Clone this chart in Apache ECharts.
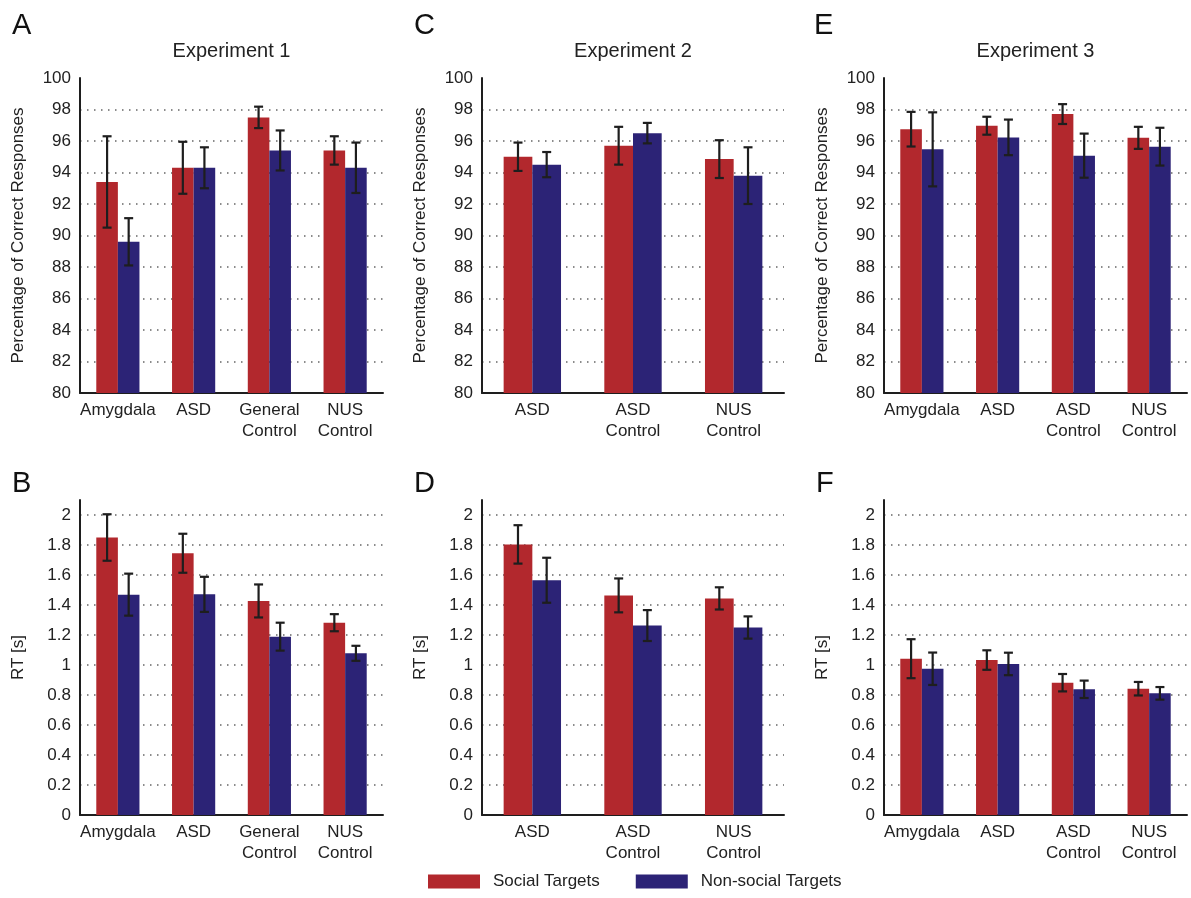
<!DOCTYPE html>
<html>
<head>
<meta charset="utf-8">
<title>Accuracy and reaction time by group</title>
<script src="https://cdn.jsdelivr.net/npm/echarts@6/dist/echarts.min.js"></script>
<style>
  html, body { margin: 0; padding: 0; background: #ffffff; }
  #chart { width: 1191px; height: 898px; }
</style>
</head>
<body>
<div id="chart"></div>
<script>
// ---- Categories ----
const exp1Categories = ['Amygdala', 'ASD', 'General\nControl', 'NUS\nControl'];
const exp2Categories = ['ASD', 'ASD\nControl', 'NUS\nControl'];
const exp3Categories = ['Amygdala', 'ASD', 'ASD\nControl', 'NUS\nControl'];

// ---- Percentage of correct responses (mean, error) ----
const acc1Social       = [93.4, 94.3, 97.5, 95.4];
const acc1SocialErr    = [2.9, 1.65, 0.68, 0.9];
const acc1NonSocial    = [89.6, 94.3, 95.4, 94.3];
const acc1NonSocialErr = [1.5, 1.3, 1.27, 1.6];

const acc2Social       = [95.0, 95.7, 94.85];
const acc2SocialErr    = [0.9, 1.2, 1.2];
const acc2NonSocial    = [94.5, 96.5, 93.8];
const acc2NonSocialErr = [0.8, 0.65, 1.8];

const acc3Social       = [96.75, 96.97, 97.71, 96.2];
const acc3SocialErr    = [1.1, 0.57, 0.63, 0.7];
const acc3NonSocial    = [95.47, 96.23, 95.07, 95.64];
const acc3NonSocialErr = [2.35, 1.13, 1.4, 1.2];

// ---- Reaction time in seconds (mean, error) ----
const rt1Social       = [1.85, 1.745, 1.427, 1.282];
const rt1SocialErr    = [0.155, 0.13, 0.11, 0.057];
const rt1NonSocial    = [1.469, 1.471, 1.189, 1.078];
const rt1NonSocialErr = [0.14, 0.117, 0.093, 0.05];

const rt2Social       = [1.804, 1.464, 1.444];
const rt2SocialErr    = [0.128, 0.113, 0.074];
const rt2NonSocial    = [1.565, 1.263, 1.25];
const rt2NonSocialErr = [0.15, 0.103, 0.074];

const rt3Social       = [1.042, 1.033, 0.882, 0.842];
const rt3SocialErr    = [0.13, 0.065, 0.058, 0.045];
const rt3NonSocial    = [0.975, 1.007, 0.838, 0.811];
const rt3NonSocialErr = [0.108, 0.075, 0.058, 0.042];

// ---- Labels ----
const experimentTitles = ['Experiment 1', 'Experiment 2', 'Experiment 3'];
const panelLetters = ['A', 'C', 'E', 'B', 'D', 'F'];
const seriesNames = ['Social Targets', 'Non-social Targets'];
const accAxisName = 'Percentage of Correct Responses';
const rtAxisName = 'RT [s]';

// ---- Styling / layout ----
const FONT = "'Liberation Sans', Arial, Helvetica, sans-serif";
const RED = '#b2282d';
const BLUE = '#2c2376';
const INK = '#1e1e1e';
const CATEGORY_GAP = 0.43;                 // fraction of each band left empty
const BAR_FRAC = (1 - CATEGORY_GAP) / 2;   // width of one bar as a band fraction

const colLeft = [80, 482, 884];
const colWidth = [303, 302, 303];
const rowTop = [78, 500];
const rowHeight = 315;

const panels = [
  { row: 0, col: 0, cats: exp1Categories, s: acc1Social, se: acc1SocialErr, n: acc1NonSocial, ne: acc1NonSocialErr, kind: 'acc' },
  { row: 0, col: 1, cats: exp2Categories, s: acc2Social, se: acc2SocialErr, n: acc2NonSocial, ne: acc2NonSocialErr, kind: 'acc' },
  { row: 0, col: 2, cats: exp3Categories, s: acc3Social, se: acc3SocialErr, n: acc3NonSocial, ne: acc3NonSocialErr, kind: 'acc' },
  { row: 1, col: 0, cats: exp1Categories, s: rt1Social, se: rt1SocialErr, n: rt1NonSocial, ne: rt1NonSocialErr, kind: 'rt' },
  { row: 1, col: 1, cats: exp2Categories, s: rt2Social, se: rt2SocialErr, n: rt2NonSocial, ne: rt2NonSocialErr, kind: 'rt' },
  { row: 1, col: 2, cats: exp3Categories, s: rt3Social, se: rt3SocialErr, n: rt3NonSocial, ne: rt3NonSocialErr, kind: 'rt' }
];

// Error bar: vertical whisker with caps, centred on the bar of the given side (-1 left, +1 right)
function errorBarRenderer(side) {
  return function (params, api) {
    const cat = api.value(0);
    const lo = api.coord([cat, api.value(1)]);
    const hi = api.coord([cat, api.value(2)]);
    const band = api.size([1, 0])[0];
    const x = lo[0] + side * band * BAR_FRAC / 2;
    const cap = 4.5;
    const style = { stroke: INK, lineWidth: 2.2 };
    return {
      type: 'group',
      children: [
        { type: 'line', shape: { x1: x, y1: lo[1], x2: x, y2: hi[1] }, style: style },
        { type: 'line', shape: { x1: x - cap, y1: hi[1], x2: x + cap, y2: hi[1] }, style: style },
        { type: 'line', shape: { x1: x - cap, y1: lo[1], x2: x + cap, y2: lo[1] }, style: style }
      ]
    };
  };
}

function errorData(means, errs) {
  return means.map((m, i) => [i, m - errs[i], m + errs[i]]);
}

const grids = [], xAxes = [], yAxes = [], series = [];

panels.forEach((p, i) => {
  grids.push({
    left: colLeft[p.col], top: rowTop[p.row],
    width: colWidth[p.col], height: rowHeight,
    containLabel: false, outerBoundsMode: 'none'
  });

  xAxes.push({
    type: 'category', gridIndex: i, data: p.cats,
    axisLine: { lineStyle: { color: INK, width: 2 } },
    axisTick: { show: false },
    axisLabel: { interval: 0, color: '#222', fontFamily: FONT, fontSize: 17, lineHeight: 21, margin: 7 },
    splitLine: { show: false }
  });

  const isAcc = p.kind === 'acc';
  yAxes.push({
    type: 'value', gridIndex: i,
    min: isAcc ? 80 : 0,
    max: isAcc ? 100 : 2.1,
    interval: isAcc ? 2 : 0.2,
    name: isAcc ? accAxisName : rtAxisName,
    nameLocation: 'middle', nameGap: 53,
    nameTextStyle: { color: '#222', fontFamily: FONT, fontSize: 17 },
    axisLine: { show: true, lineStyle: { color: INK, width: 2 } },
    axisTick: { show: false },
    axisLabel: { color: '#222', fontFamily: FONT, fontSize: 17, margin: 9, showMaxLabel: isAcc },
    splitLine: {
      show: true, showMinLine: false, showMaxLine: false,
      lineStyle: { color: '#666', width: 1.5, type: [1.5, 5.5] }
    }
  });

  series.push({
    name: seriesNames[0], type: 'bar', xAxisIndex: i, yAxisIndex: i,
    data: p.s, barGap: '0%', barCategoryGap: (CATEGORY_GAP * 100) + '%',
    itemStyle: { color: RED }, silent: true
  });
  series.push({
    name: seriesNames[1], type: 'bar', xAxisIndex: i, yAxisIndex: i,
    data: p.n, barGap: '0%', barCategoryGap: (CATEGORY_GAP * 100) + '%',
    itemStyle: { color: BLUE }, silent: true
  });
  series.push({
    name: seriesNames[0], type: 'custom', xAxisIndex: i, yAxisIndex: i,
    data: errorData(p.s, p.se), encode: { x: 0, y: [1, 2] },
    renderItem: errorBarRenderer(-1), z: 5, silent: true, clip: false
  });
  series.push({
    name: seriesNames[1], type: 'custom', xAxisIndex: i, yAxisIndex: i,
    data: errorData(p.n, p.ne), encode: { x: 0, y: [1, 2] },
    renderItem: errorBarRenderer(1), z: 5, silent: true, clip: false
  });
});

// Panel letters and column titles
const titles = [];
const letterPos = [[12, 11], [414, 11], [814, 11], [12, 469], [414, 469], [816, 469]];
panelLetters.forEach((t, i) => {
  titles.push({
    text: t, left: letterPos[i][0], top: letterPos[i][1], padding: 0,
    textStyle: { fontFamily: FONT, fontSize: 29, fontWeight: 'normal', color: '#111' }
  });
});
experimentTitles.forEach((t, c) => {
  titles.push({
    text: t, left: colLeft[c] + colWidth[c] / 2, textAlign: 'center', top: 41, padding: 0,
    textStyle: { fontFamily: FONT, fontSize: 20, fontWeight: 'normal', color: '#222' }
  });
});

const option = {
  backgroundColor: '#ffffff',
  animation: false,
  title: titles,
  legend: {
    data: seriesNames.map(n => ({ name: n, icon: 'rect' })),
    left: 428, top: 873, padding: 0,
    itemWidth: 52, itemHeight: 14, itemGap: 36,
    textStyle: { fontFamily: FONT, fontSize: 17, color: '#222', padding: [0, 0, 0, 8] }
  },
  grid: grids,
  xAxis: xAxes,
  yAxis: yAxes,
  series: series
};

const chart = echarts.init(document.getElementById('chart'), null, { renderer: 'canvas' });
chart.setOption(option);
</script>
</body>
</html>
